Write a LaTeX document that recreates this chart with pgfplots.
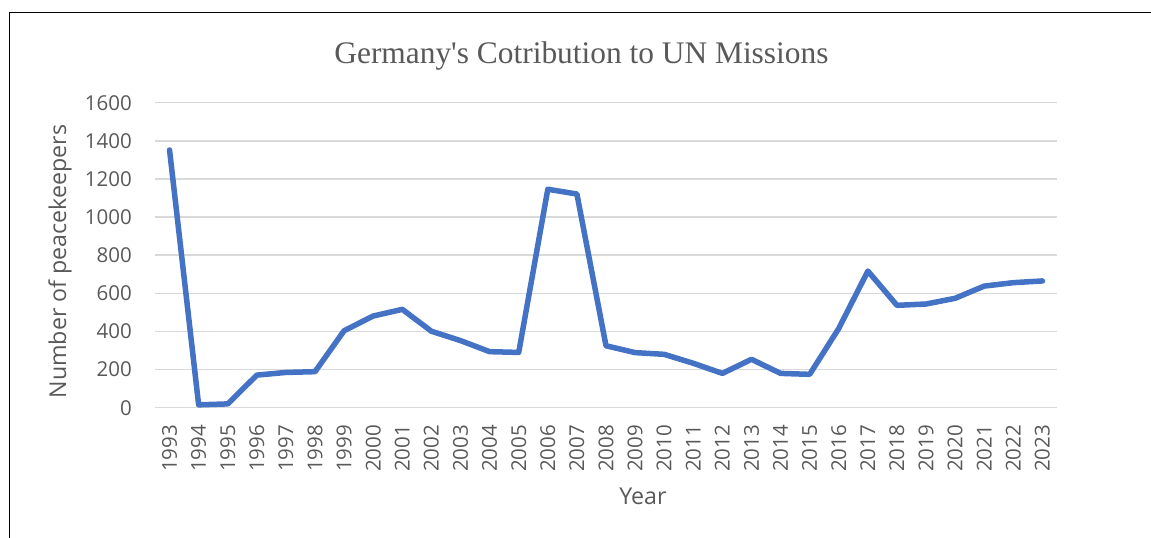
\documentclass[border=0pt]{standalone}
\usepackage{pgfplots}
\pgfplotsset{compat=1.18}
\usepackage{fontspec}
\setmainfont{Open Sans}
\newfontfamily\titlefont{Liberation Serif}
\definecolor{txtgray}{HTML}{595959}
\definecolor{gridgray}{HTML}{D9D9D9}
\definecolor{lineblue}{HTML}{4472C4}
\pgfplotstableread{
year value
1993 1352
1994 15
1995 20
1996 171
1997 185
1998 189
1999 404
2000 481
2001 516
2002 401
2003 352
2004 294
2005 290
2006 1146
2007 1121
2008 325
2009 289
2010 280
2011 233
2012 180
2013 254
2014 180
2015 175
2016 416
2017 717
2018 537
2019 544
2020 574
2021 638
2022 656
2023 665
}\datatable
\begin{document}
\begin{tikzpicture}
\path[use as bounding box] (0,0) rectangle (1151bp,-538bp);
\draw[line width=1.5bp, black] (9.5bp,-540bp) -- (9.5bp,-12.5bp) -- (1152bp,-12.5bp);
\begin{axis}[
  at={(155bp,-407.7bp)}, anchor=south west,
  scale only axis, width=902bp, height=305bp,
  xmin=1992.5, xmax=2023.5, ymin=0, ymax=1600,
  xtick={1993,...,2023}, ytick={0,200,...,1600},
  /pgf/number format/assume math mode=true,
  /pgf/number format/1000 sep={},
  axis line style={draw=none},
  major tick length=0pt, tick style={draw=none},
  ymajorgrids, grid style={gridgray, line width=1.5bp},
  tick label style={font=\fontsize{20.5bp}{24bp}\selectfont, text=txtgray},
  yticklabel style={anchor=east, inner xsep=23bp, inner ysep=0pt},
  xticklabel style={rotate=90, anchor=east, inner xsep=17bp, inner ysep=0pt},
  every axis y label/.style={at={(axis description cs:-0.1053,0.479)}, rotate=90, anchor=center, font=\fontsize{23.2bp}{27bp}\selectfont, text=txtgray},
  every axis x label/.style={at={(axis description cs:0.541,-0.291)}, anchor=center, font=\fontsize{23.2bp}{27bp}\selectfont, text=txtgray},
  every axis title/.style={at={(axis description cs:0.4728,1.130)}, anchor=base, font=\titlefont\fontsize{31.4bp}{36bp}\selectfont, text=txtgray},
  title={Germany's Cotribution to UN Missions},
  xlabel={Year}, ylabel={Number of peacekeepers},
  clip=false,
]
\addplot[lineblue, line width=5.5bp, line join=round, line cap=round] table[x=year, y=value] {\datatable};
\end{axis}
\end{tikzpicture}
\end{document}
